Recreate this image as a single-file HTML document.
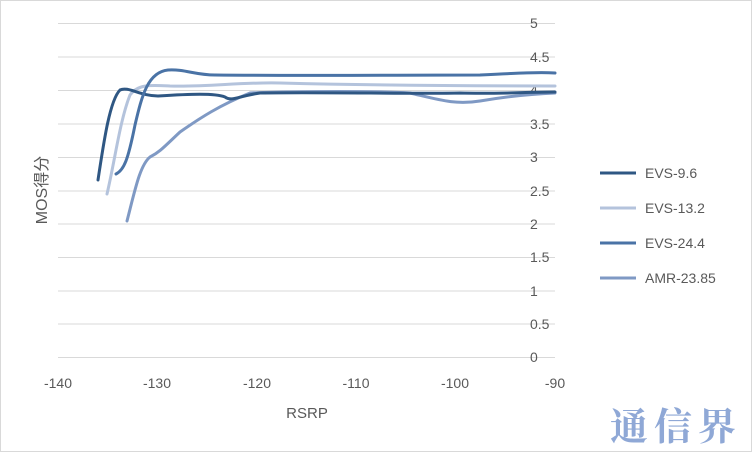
<!DOCTYPE html><html><head><meta charset="utf-8"><style>body{margin:0;background:#fff}svg text{font-family:"Liberation Sans","Noto Sans CJK SC",sans-serif;fill:#595959}</style></head><body>
<svg width="752" height="452" viewBox="0 0 752 452" font-size="14">
<rect x="0.5" y="0.5" width="751" height="451" fill="#fff" stroke="#d9d9d9"/>
<g stroke="#d9d9d9" stroke-width="1">
<line x1="58" x2="555" y1="23.5" y2="23.5"/><line x1="58" x2="555" y1="57" y2="57"/><line x1="58" x2="555" y1="90.5" y2="90.5"/><line x1="58" x2="555" y1="124" y2="124"/><line x1="58" x2="555" y1="157.5" y2="157.5"/><line x1="58" x2="555" y1="191" y2="191"/><line x1="58" x2="555" y1="224" y2="224"/><line x1="58" x2="555" y1="257.5" y2="257.5"/><line x1="58" x2="555" y1="291" y2="291"/><line x1="58" x2="555" y1="324" y2="324"/><line x1="58" x2="555" y1="357.5" y2="357.5"/>
</g>
<g text-anchor="start">
<text x="530" y="28">5</text><text x="530" y="62">4.5</text><text x="530" y="95">4</text><text x="530" y="129">3.5</text><text x="530" y="162">3</text><text x="530" y="196">2.5</text><text x="530" y="229">2</text><text x="530" y="262">1.5</text><text x="530" y="296">1</text><text x="530" y="329">0.5</text><text x="530" y="362">0</text>
</g>
<g text-anchor="middle">
<text x="58" y="388">-140</text><text x="157" y="388">-130</text><text x="257" y="388">-120</text><text x="356" y="388">-110</text><text x="455" y="388">-100</text><text x="555" y="388">-90</text>
<text x="307" y="418" style="font-size:15px">RSRP</text>
<text transform="translate(47,190) rotate(-90)" style="font-size:16px">MOS得分</text>
</g>
<g fill="none" stroke-width="3" stroke-linecap="round" stroke-linejoin="round">
<path stroke="#b4c3dc" d="M107,194 C115,160 120,120 130,95 C138,84 150,85 170,86 C210,87 240,82 280,83 C360,85 450,86 555,86"/>
<path stroke="#7f99c4" d="M127,221 C135,190 140,165 150,157 C160,152 165,146 180,132 C200,118 220,105 250,93 C300,91 380,91 410,93 C440,100 455,105 480,101 C510,96 530,94 555,93"/>
<path stroke="#2f5783" d="M98,180 C104,140 110,100 120,90 C128,86 140,96 158,96 C190,94 215,93 225,97 C232,102 238,96 260,93 C320,92 420,94 460,93 C500,94 530,92 555,92"/>
<path stroke="#4a73a6" d="M116,174 C124,170 128,160 135,125 C142,95 148,72 168,70 C185,69 195,75 215,75 C300,76 400,75 480,75 C520,73 540,72 555,73"/>
</g>
<g stroke-width="3"><line x1="600" y1="173" x2="636" y2="173" stroke="#2f5783"/><line x1="600" y1="208" x2="636" y2="208" stroke="#b4c3dc"/><line x1="600" y1="243" x2="636" y2="243" stroke="#4a73a6"/><line x1="600" y1="278" x2="636" y2="278" stroke="#7f99c4"/></g>
<g><text x="645" y="178">EVS-9.6</text><text x="645" y="213">EVS-13.2</text><text x="645" y="248">EVS-24.4</text><text x="645" y="283">AMR-23.85</text></g>
<text x="610" y="440" style="font-size:38px;fill:#8fa8d6;font-family:'Noto Serif CJK SC','WenQuanYi Zen Hei',serif;font-weight:bold" letter-spacing="6">通信界</text>
</svg></body></html>
